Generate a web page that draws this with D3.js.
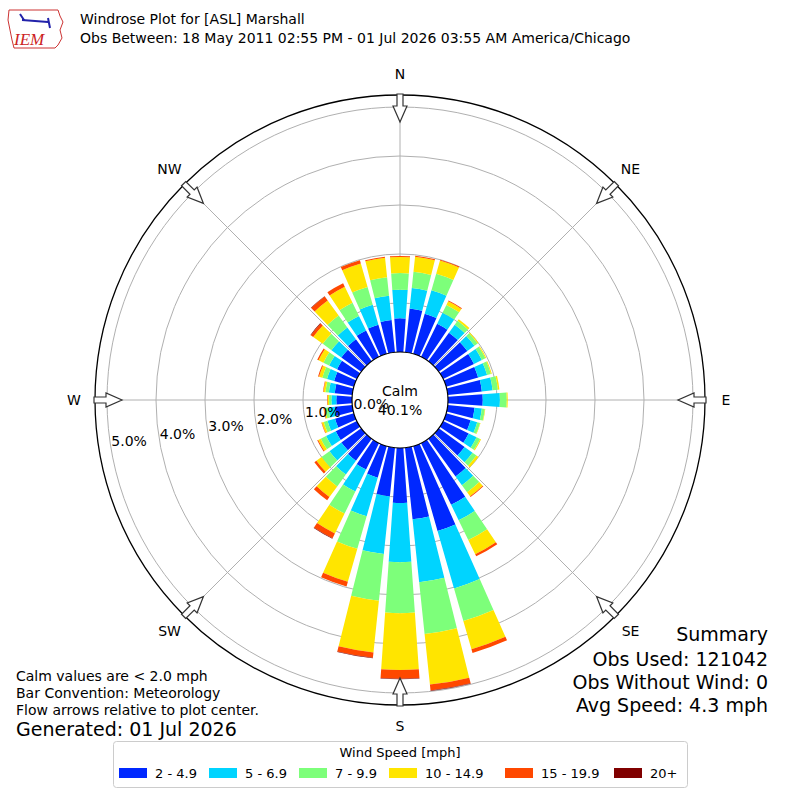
<!DOCTYPE html>
<html><head><meta charset="utf-8">
<script src="https://cdn.jsdelivr.net/npm/d3@7"></script>
<style>body{margin:0;background:#fff}svg{font-family:"DejaVu Sans",sans-serif}</style>
</head><body><svg id="c" width="800" height="800"></svg>
<script>
const directions = d3.range(0, 360, 10);
const speedBins = ["2 - 4.9","5 - 6.9","7 - 9.9","10 - 14.9","15 - 19.9","20+"];
const binColors = ["#0028ff","#00d4ff","#7dff7a","#ffe500","#ff4800","#800000"];
const s2_5  = [0.69,0.90,0.85,0.75,0.72,0.72,0.70,0.68,0.70,0.71,0.55,0.52,0.58,0.65,0.95,1.40,1.80,1.47,1.12,1.00,0.67,0.60,0.55,0.50,0.48,0.40,0.36,0.32,0.36,0.42,0.45,0.50,0.55,0.60,0.62,0.66];
const s5_7  = [0.58,0.42,0.50,0.25,0.20,0.18,0.18,0.19,0.22,0.35,0.15,0.14,0.18,0.20,0.22,0.35,1.22,1.29,1.21,1.18,0.82,0.50,0.35,0.30,0.22,0.16,0.13,0.10,0.12,0.15,0.18,0.25,0.30,0.33,0.42,0.50];
const s7_10 = [0.34,0.33,0.35,0.18,0.10,0.08,0.08,0.08,0.11,0.14,0.06,0.06,0.08,0.10,0.18,0.45,0.69,1.06,1.04,0.96,0.69,0.50,0.30,0.20,0.12,0.08,0.06,0.05,0.07,0.10,0.13,0.22,0.30,0.30,0.38,0.38];
const s10_15= [0.33,0.31,0.28,0.08,0.04,0.02,0.02,0.02,0.03,0.02,0.01,0.01,0.02,0.05,0.10,0.32,0.60,1.04,1.16,1.06,0.70,0.45,0.27,0.13,0.06,0.04,0.03,0.03,0.04,0.07,0.11,0.24,0.38,0.36,0.50,0.40];
const s15_20= [0.02,0.02,0.02,0.02,0.00,0.00,0.00,0.00,0.00,0.00,0.00,0.00,0.00,0.00,0.02,0.05,0.08,0.12,0.18,0.11,0.10,0.11,0.08,0.05,0.02,0.01,0.01,0.01,0.01,0.02,0.03,0.06,0.10,0.08,0.07,0.02];
const s20p  = [0,0,0,0,0,0,0,0,0,0,0,0,0,0,0,0,0,0.01,0.01,0.01,0,0.01,0,0,0,0,0,0,0,0,0,0.01,0.01,0,0,0];
const series = [s2_5,s5_7,s7_10,s10_15,s15_20,s20p];
const ringTicks = [0,1,2,3,4,5];
const compass = [["N",0],["NE",45],["E",90],["SE",135],["S",180],["SW",225],["W",270],["NW",315]];

const svg = d3.select("#c");
const cx=400, cy=400;
const r = d3.scaleLinear().domain([0,5]).range([48,293]);
const R = 305;
const g = svg.append("g").attr("transform",`translate(${cx},${cy})`);
const rad = d=>d*Math.PI/180;
const pt=(deg,rr)=>[rr*Math.sin(rad(deg)), -rr*Math.cos(rad(deg))];

g.selectAll(".ring").data(ringTicks.slice(1)).join("circle").attr("r",d=>r(d)).attr("fill","none").attr("stroke","#b0b0b0").attr("stroke-width",1);
g.selectAll(".spoke").data(compass).join("line")
 .attr("x1",d=>pt(d[1],r(0))[0]).attr("y1",d=>pt(d[1],r(0))[1])
 .attr("x2",d=>pt(d[1],R)[0]).attr("y2",d=>pt(d[1],R)[1]).attr("stroke","#b0b0b0");

const arc = d3.arc();
directions.forEach((dir,i)=>{
  let cum=0;
  series.forEach((s,k)=>{
    const v=s[i]; if(v<=0) return;
    const a0=cum, a1=cum+v; cum=a1;
    g.append("path").attr("d",arc({innerRadius:r(a0),outerRadius:r(a1),startAngle:rad(dir-4),endAngle:rad(dir+4)}))
     .attr("fill",binColors[k]);
  });
});

g.append("circle").attr("r",r(0)).attr("fill","#fff").attr("stroke","#000").attr("stroke-width",1.2);
g.append("text").attr("x",0).attr("y",-4).attr("text-anchor","middle").attr("font-size",14).text("Calm");
g.append("text").attr("x",0).attr("y",15).attr("text-anchor","middle").attr("font-size",14).text("40.1%");
g.append("circle").attr("r",R).attr("fill","none").attr("stroke","#000").attr("stroke-width",1.3);

g.selectAll(".rl").data(ringTicks).join("text")
 .attr("x",d=>pt(261.4,r(d)-19)[0]).attr("y",d=>pt(261.4,r(d)-19)[1]+5)
 .attr("text-anchor","middle").attr("font-size",14).text(d=>d.toFixed(1)+"%");

compass.forEach(([lab,deg])=>{
  const ag=g.append("g").attr("transform",`rotate(${deg})`);
  ag.append("path").attr("d","M-3,-306 L3,-306 L3,-294 L7,-294 L0,-278 L-7,-294 L-3,-294 Z")
    .attr("fill","#fff").attr("stroke","#333").attr("stroke-width",1.2);
  const p=pt(deg,326);
  g.append("text").attr("x",p[0]).attr("y",p[1]+5).attr("text-anchor","middle").attr("font-size",14).text(lab);
});

svg.append("text").attr("x",80).attr("y",24).attr("font-size",14).text("Windrose Plot for [ASL] Marshall");
svg.append("text").attr("x",80).attr("y",43).attr("font-size",14).text("Obs Between: 18 May 2011 02:55 PM - 01 Jul 2026 03:55 AM America/Chicago");
svg.append("path").attr("d","M9,10 L58,10 L60,16 L63,22 L60,30 L62,38 L58,45 L55,48 L14,48 L12,40 L10,30 L8,20 Z").attr("fill","none").attr("stroke","#c33").attr("stroke-width",1);
svg.append("path").attr("d","M22,20 L48,22 M48,18 L50,28 M20,14 L24,20").attr("stroke","#22a").attr("stroke-width",2).attr("fill","none");
svg.append("text").attr("x",14).attr("y",45).attr("font-family","Liberation Serif").attr("font-style","italic").attr("font-size",17).attr("fill","#c22").text("IEM");

const sum=[["Summary",641],["Obs Used: 121042",666],["Obs Without Wind: 0",689],["Avg Speed: 4.3 mph",712]];
svg.selectAll(".sm").data(sum).join("text").attr("x",768).attr("y",d=>d[1]).attr("text-anchor","end").attr("font-size",19).text(d=>d[0]);
const notes=[["Calm values are < 2.0 mph",681],["Bar Convention: Meteorology",698],["Flow arrows relative to plot center.",715]];
svg.selectAll(".nt").data(notes).join("text").attr("x",16).attr("y",d=>d[1]).attr("font-size",14).text(d=>d[0]);
svg.append("text").attr("x",16).attr("y",736).attr("font-size",19).text("Generated: 01 Jul 2026");

const lg=svg.append("g");
lg.append("rect").attr("x",113.5).attr("y",741.5).attr("width",574).attr("height",46).attr("rx",3).attr("fill","#fff").attr("stroke","#ccc");
lg.append("text").attr("x",400).attr("y",757).attr("text-anchor","middle").attr("font-size",13).text("Wind Speed [mph]");
const lx=[119,209,299,389,505,614];
speedBins.forEach((b,k)=>{
  lg.append("rect").attr("x",lx[k]).attr("y",768).attr("width",28).attr("height",10).attr("fill",binColors[k]);
  lg.append("text").attr("x",lx[k]+36).attr("y",778).attr("font-size",13).text(b);
});
</script></body></html>
